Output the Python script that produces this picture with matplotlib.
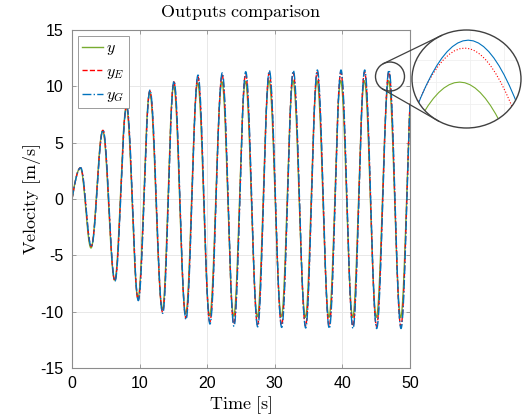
import numpy as np
import matplotlib.pyplot as plt
from matplotlib.patches import Ellipse, Circle
from matplotlib.lines import Line2D
from matplotlib.transforms import IdentityTransform

plt.rcParams['mathtext.fontset'] = 'cm'
plt.rcParams['axes.unicode_minus'] = False
plt.rcParams['font.family'] = ['Liberation Sans', 'DejaVu Sans']

# times of the extrema [s]
t_peak = [1.29, 4.59, 8.09, 11.54, 15.09, 18.64, 22.23, 25.70, 29.19, 32.74,
          36.29, 39.79, 43.30, 46.89, 50.42]
t_trough = [2.86, 6.36, 9.81, 13.42, 16.86, 20.41, 23.96, 27.47, 31.02, 34.57,
            38.06, 41.57, 45.07, 48.67]

# extrema values [m/s]
y_peak = [2.75, 6.05, 8.15, 9.45, 10.10, 10.30, 10.40, 10.45, 10.50, 10.50,
          10.50, 10.50, 10.50, 10.50, 10.50]
y_trough = [-4.35, -7.20, -8.80, -9.80, -10.20, -10.35, -10.40, -10.45, -10.45,
            -10.50, -10.50, -10.50, -10.50, -10.50]
yE_peak = [2.78, 6.10, 8.25, 9.60, 10.40, 10.85, 11.00, 11.10, 11.20, 11.20,
           11.25, 11.25, 11.27, 11.27, 11.27]
yE_trough = [-4.20, -7.25, -8.95, -10.05, -10.55, -10.90, -11.10, -11.15, -11.20,
             -11.25, -11.30, -11.30, -11.30, -11.30]
yG_peak = [2.78, 6.12, 8.28, 9.67, 10.47, 11.00, 11.20, 11.30, 11.40, 11.40,
           11.45, 11.45, 11.45, 11.45, 11.45]
yG_trough = [-4.23, -7.28, -9.02, -10.15, -10.70, -11.10, -11.30, -11.35, -11.40,
             -11.45, -11.50, -11.50, -11.50, -11.50]

# small time lead of the outputs w.r.t. y_G [s]
y_lag = -0.05
yE_lag = -0.02


def through_extrema(tp, tt, vp, vt, lag=0.0, n=60):
    kt, kv = [], []
    for i in range(len(tp)):
        kt.append(tp[i] + lag)
        kv.append(vp[i])
        if i < len(tt):
            kt.append(tt[i] + lag)
            kv.append(vt[i])
    # start at rest, quarter wave up to the first peak
    s = np.linspace(0, 1, n)
    t = [kt[0] * s]
    v = [kv[0] * np.sin(np.pi / 2 * s)]
    for k in range(len(kt) - 1):
        t.append(kt[k] + (kt[k + 1] - kt[k]) * s[1:])
        v.append(kv[k] + (kv[k + 1] - kv[k]) * (1 - np.cos(np.pi * s[1:])) / 2)
    return np.concatenate(t), np.concatenate(v)


series = [
    (through_extrema(t_peak, t_trough, y_peak, y_trough, y_lag),
     dict(color='#77AC30', ls='-', label='$y$')),
    (through_extrema(t_peak, t_trough, yE_peak, yE_trough, yE_lag),
     dict(color='#FF0000', ls='--', label='$y_E$')),
    (through_extrema(t_peak, t_trough, yG_peak, yG_trough),
     dict(color='#0072BD', ls='-.', label='$y_G$')),
]

W, H = 529, 419
fig = plt.figure(figsize=(W / 100, H / 100), dpi=100)
ax = fig.add_axes([72 / W, 1 - 368 / H, 338 / W, 338 / H])

for (t, v), style in series:
    ax.plot(t, v, lw=1.0, **style)

ax.set_xlim(0, 50)
ax.set_ylim(-15, 15)
ax.set_xticks(np.arange(0, 51, 10))
ax.set_yticks(np.arange(-15, 16, 5))
ax.grid(True, color='#e8e8e8', lw=0.7)
ax.set_axisbelow(True)
for sp in ax.spines.values():
    sp.set_color('#8c8c8c')
    sp.set_linewidth(0.8)
ax.tick_params(direction='in', length=3, width=0.6, color='#8c8c8c',
               top=True, right=True, labelsize=11.5, pad=6)

ax.set_title(r'$\mathrm{Outputs\ comparison}$', fontsize=13, pad=9)
ax.set_xlabel(r'$\mathrm{Time\ [s]}$', fontsize=13, labelpad=2)
ax.set_ylabel(r'$\mathrm{Velocity\ [m/s]}$', fontsize=13, labelpad=-2)

leg = ax.legend(loc='upper left', fontsize=11.5, handlelength=1.3,
                handletextpad=0.2, labelspacing=0.4, borderaxespad=0.4,
                fancybox=False, framealpha=1, borderpad=0.25)
leg.get_frame().set_edgecolor('#8c8c8c')
leg.get_frame().set_linewidth(0.6)

# magnifier: source circle on the last full peak, enlarged view to the right
src_t, src_v, src_r = 47.04, 10.87, 14.5
big_box = (412, H - 128, 109, 98)   # x, y, w, h in pixels

c1 = ax.transData.transform((src_t, src_v))
fig.add_artist(Circle(c1, src_r, transform=IdentityTransform(), fill=False,
                      ec='#404040', lw=1.0))

bx, by, bw, bh = big_box
c2 = np.array([bx + bw / 2, by + bh / 2])
r2 = (bw + bh) / 4
d = c2 - c1
theta = np.arctan2(d[1], d[0])
phi = np.arccos((src_r - r2) / np.hypot(*d))
for a in (theta + phi, theta - phi):
    n = np.array([np.cos(a), np.sin(a)])
    p1 = c1 + src_r * n
    p2 = c2 + np.array([bw / 2 * n[0], bh / 2 * n[1]])
    fig.add_artist(Line2D([p1[0], p2[0]], [p1[1], p2[1]], color='#404040',
                          lw=0.9, transform=IdentityTransform()))

axin = fig.add_axes([bx / W, by / H, bw / W, bh / H])
axin.patch.set_visible(False)
for sp in axin.spines.values():
    sp.set_visible(False)
clip = Ellipse((0.5, 0.5), 1, 1, transform=axin.transAxes, fc='white',
               ec='none', zorder=0)
axin.add_patch(clip)
for (t, v), style in series:
    ln, = axin.plot(t, v, lw=0.8, color=style['color'],
                    ls=':' if style['ls'] == '--' else '-')
    ln.set_clip_path(clip)
axin.set_xlim(46.88 - 0.32, 46.88 + 0.32)
axin.set_ylim(10.57 - 1.11, 10.57 + 1.11)
axin.set_xticks([46.7, 46.9, 47.1])
axin.set_yticks([10.0, 10.5, 11.0])
axin.tick_params(length=0, labelbottom=False, labelleft=False)
axin.grid(True, color='#f0f0f0', lw=0.6)
for tk in axin.xaxis.get_major_ticks() + axin.yaxis.get_major_ticks():
    tk.gridline.set_clip_path(clip)
axin.add_patch(Ellipse((0.5, 0.5), 1, 1, transform=axin.transAxes, fill=False,
                       ec='#404040', lw=1.0, zorder=5, clip_on=False))

fig.savefig('out.png', dpi=100)
